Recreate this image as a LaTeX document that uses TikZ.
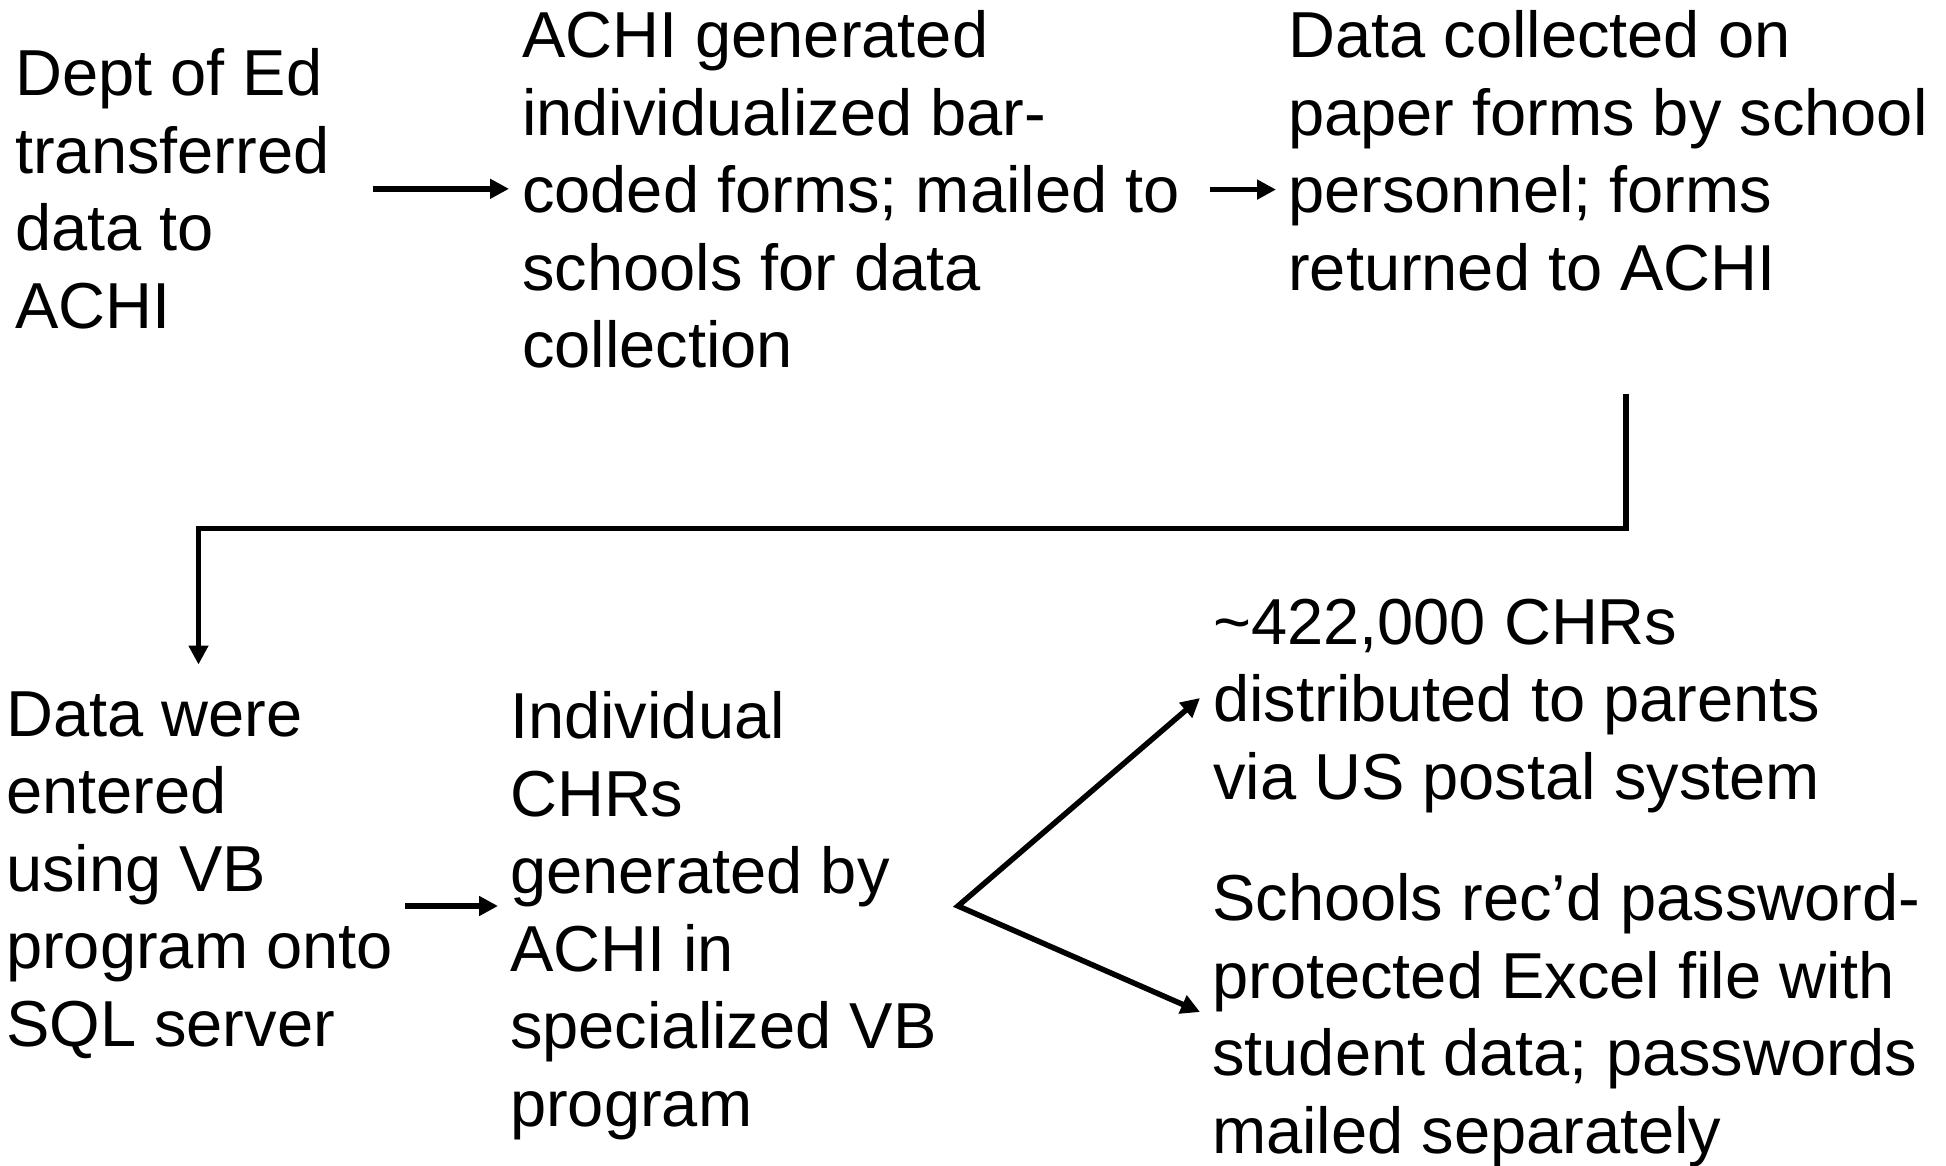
\documentclass[tikz,border=0pt]{standalone}
\usepackage{fontspec}
\setmainfont{Liberation Sans}
\usetikzlibrary{arrows.meta}

\begin{document}
\begin{tikzpicture}[x=1pt, y=-1pt,
    steptext/.style={anchor=north west, inner sep=0pt, align=left,
        font=\fontsize{65}{77.5}\selectfont},
    flow/.style={line width=5.5pt, line join=miter, -{Triangle[length=19pt, width=19pt]}},
    split/.style={line width=5.5pt, line join=miter,
        {Triangle[length=19pt, width=19pt]}-{Triangle[length=19pt, width=19pt]}}]
    \useasboundingbox (0,0) rectangle (1946,1165);

    \node[steptext] (dept) at (15,48.5) {Dept of Ed\\transferred\\data to\\ACHI};
    \node[steptext] (achi) at (522,10.5) {ACHI generated\\individualized bar-\\coded forms; mailed to\\schools for data\\collection};
    \node[steptext] (collect) at (1288,10.5) {Data collected on\\paper forms by school\\personnel; forms\\returned to ACHI};

    \node[steptext] (entered) at (6,691.5) {Data were\\entered\\using VB\\program onto\\SQL server};
    \node[steptext] (chrs) at (510,691.5) {Individual\\CHRs\\generated by\\ACHI in\\specialized VB\\program};
    \node[steptext] (parents) at (1213,598.5) {\textasciitilde 422,000 CHRs\\distributed to parents\\via US postal system};
    \node[steptext] (excel) at (1212,873.5) {Schools rec’d password-\\protected Excel file with\\student data; passwords\\mailed separately};

    \coordinate (fork) at (958,906);

    \draw[flow, shorten <=43pt, shorten >=13pt] (dept.east) -- (dept.east -| achi.west);
    \draw[flow, shorten <=30pt, shorten >=12pt] (achi.east) -- (achi.east -| collect.west);
    \draw[flow] ([shift={(18,102.5)}]collect.south) -- ++(0,135) -| ([shift={(-1,-27)}]entered.north);
    \draw[flow, shorten <=12pt, shorten >=12pt] (entered.east |- fork) -- (chrs.west |- fork);
    \draw[split] ([shift={(-13,99.5)}]parents.north west) -- (fork) -- ([shift={(-12,138.5)}]excel.north west);
\end{tikzpicture}
\end{document}
